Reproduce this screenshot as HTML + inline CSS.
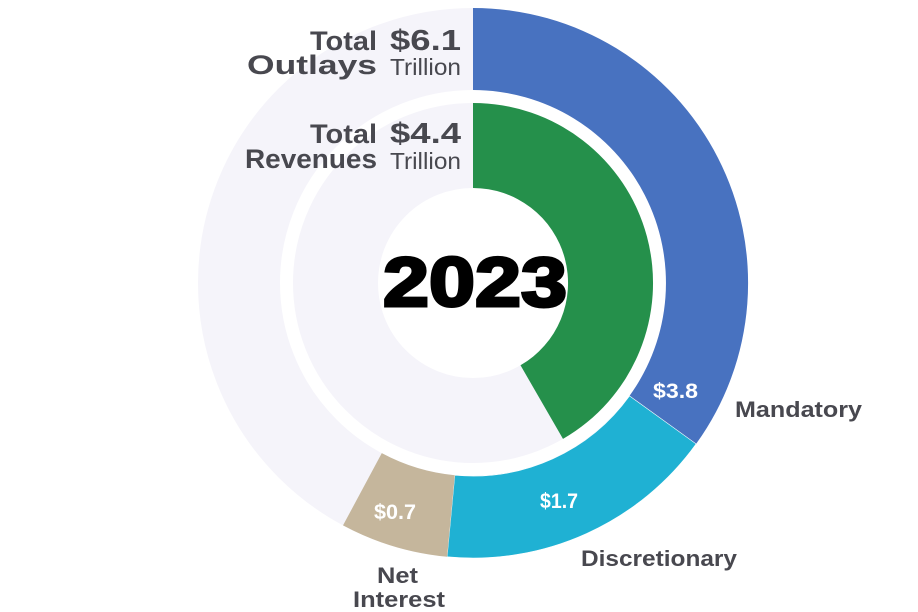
<!DOCTYPE html>
<html><head><meta charset="utf-8"><style>
html,body{margin:0;padding:0;background:#fff;}
svg{display:block;font-family:"Liberation Sans",sans-serif;}
</style></head><body>
<svg width="918" height="612" viewBox="0 0 918 612">
<circle cx="473" cy="283" r="234" fill="none" stroke="#f5f4fa" stroke-width="82"/>
<circle cx="473" cy="283" r="137.5" fill="none" stroke="#f5f4fa" stroke-width="85"/>
<path d="M473,8 A275,275 0 0 1 696.1,443.9 L629.5,395.9 A193,193 0 0 0 473,90 Z" fill="#4872c0"/>
<path d="M696.1,443.9 A275,275 0 0 1 447.1,556.8 L454.8,475.2 A193,193 0 0 0 629.5,395.9 Z" fill="#1fb1d3" stroke="#fff" stroke-width="0.6"/>
<path d="M447.1,556.8 A275,275 0 0 1 343,525.4 L381.8,453.1 A193,193 0 0 0 454.8,475.2 Z" fill="#c5b69c"/>
<path d="M473,103 A180,180 0 0 1 563,438.9 L520.5,365.3 A95,95 0 0 0 473,188 Z" fill="#25904b"/>
<g fill="#48484f" font-weight="bold" font-size="27" lengthAdjust="spacingAndGlyphs">
<text x="310" y="50" textLength="67" lengthAdjust="spacingAndGlyphs">Total</text>
<text x="247" y="74" textLength="130" lengthAdjust="spacingAndGlyphs">Outlays</text>
<text x="310" y="143" textLength="67" lengthAdjust="spacingAndGlyphs">Total</text>
<text x="245" y="168" textLength="132" lengthAdjust="spacingAndGlyphs">Revenues</text>
</g>
<g fill="#48484f" font-size="29" font-weight="bold">
<text x="390" y="50" textLength="71" lengthAdjust="spacingAndGlyphs">$6.1</text>
<text x="390" y="143" textLength="71" lengthAdjust="spacingAndGlyphs">$4.4</text>
</g>
<g fill="#48484f" font-size="23">
<text x="390" y="75" textLength="71" lengthAdjust="spacingAndGlyphs">Trillion</text>
<text x="390" y="169" textLength="71" lengthAdjust="spacingAndGlyphs">Trillion</text>
</g>
<text x="383" y="306" textLength="184" lengthAdjust="spacingAndGlyphs" font-size="70" font-weight="900" fill="#000" stroke="#000" stroke-width="3">2023</text>
<g fill="#fff" font-weight="bold" font-size="21">
<text x="653" y="398" textLength="45" lengthAdjust="spacingAndGlyphs">$3.8</text>
<text x="540" y="508" textLength="38" lengthAdjust="spacingAndGlyphs">$1.7</text>
<text x="374" y="519" textLength="42" lengthAdjust="spacingAndGlyphs">$0.7</text>
</g>
<g fill="#48484f" font-weight="bold" font-size="22">
<text x="735" y="417" textLength="127" lengthAdjust="spacingAndGlyphs">Mandatory</text>
<text x="581" y="566" textLength="156" lengthAdjust="spacingAndGlyphs">Discretionary</text>
<text x="377" y="583" textLength="41" lengthAdjust="spacingAndGlyphs">Net</text>
<text x="353" y="607" textLength="92" lengthAdjust="spacingAndGlyphs">Interest</text>
</g>
</svg>
</body></html>
